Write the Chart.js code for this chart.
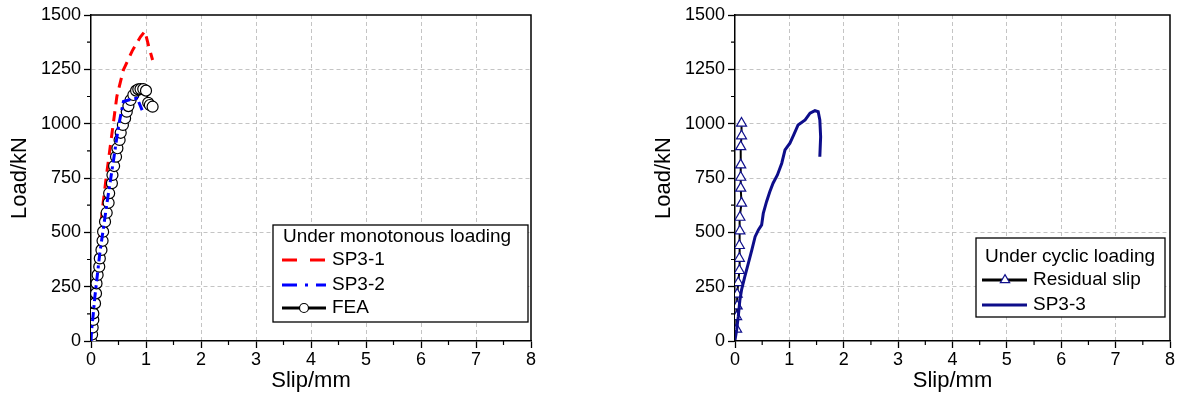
<!DOCTYPE html>
<html>
<head>
<meta charset="utf-8">
<title>Load-slip curves</title>
<script src="https://cdn.jsdelivr.net/npm/chart.js@4.4.1/dist/chart.umd.min.js"></script>
<style>
  html, body { margin: 0; padding: 0; background: #fff; }
  body { width: 1179px; height: 405px; position: relative; overflow: hidden; }
  .panel { position: absolute; top: 0; height: 405px; }
  #left { left: 0; width: 560px; }
  #right { left: 644px; width: 535px; }
</style>
</head>
<body>
<div class="panel" id="left"><canvas id="mono"></canvas></div>
<div class="panel" id="right"><canvas id="cyclic"></canvas></div>
<script>
// axis ticks shared by both panels
const slipTicks = [0, 1, 2, 3, 4, 5, 6, 7, 8];
const loadTicks = [0, 250, 500, 750, 1000, 1250, 1500];

// monotonous loading
const sp31Slip = [0, 0.05, 0.1, 0.15, 0.2, 0.27, 0.35, 0.47, 0.59, 0.75, 0.9, 0.98, 1.05, 1.12];
const sp31Load = [0, 130, 280, 430, 590, 740, 895, 1125, 1248, 1335, 1400, 1425, 1355, 1293];

const sp32Slip = [0, 0.01, 0.04, 0.07, 0.16, 0.29, 0.41, 0.5, 0.59, 0.7, 0.84, 0.93];
const sp32Load = [0, 48, 122, 203, 403, 634, 833, 988, 1102, 1110, 1117, 1062];

const feaSlip = [0, 0.02, 0.03, 0.042, 0.042, 0.073, 0.091, 0.1, 0.12, 0.15, 0.16, 0.19, 0.21, 0.22, 0.255,
  0.285, 0.32, 0.33, 0.38, 0.39, 0.42, 0.455, 0.48, 0.52, 0.54, 0.58, 0.62, 0.65, 0.68, 0.72, 0.77,
  0.82, 0.86, 0.9, 0.95, 1.0, 1.04, 1.07, 1.12];
const feaLoad = [0, 30, 62, 97, 127, 173, 219, 265, 304, 342, 380, 419, 461, 503, 549,
  590, 636, 680, 726, 764, 805, 848, 887, 925, 958, 994, 1025, 1055, 1081, 1109, 1132,
  1152, 1158, 1159, 1159, 1152, 1096, 1086, 1078];

// cyclic loading
const residualSlip = [0.03, 0.03, 0.04, 0.04, 0.06, 0.08, 0.08, 0.08, 0.09, 0.09, 0.12, 0.105, 0.105, 0.105, 0.105, 0.12, 0.12];
const residualLoad = [54, 112, 161, 215, 268, 324, 380, 439, 506, 569, 634, 703, 753, 810, 894, 943, 1002];

const sp33Slip = [0, 0.03, 0.06, 0.09, 0.12, 0.18, 0.245, 0.31, 0.37, 0.43, 0.49, 0.52, 0.58, 0.64, 0.7,
  0.78, 0.86, 0.92, 1.01, 1.08, 1.16, 1.29, 1.38, 1.47, 1.53, 1.56, 1.575, 1.56];
const sp33Load = [5, 51, 112, 189, 235, 296, 357, 419, 480, 511, 534, 587, 641, 687, 726,
  764, 818, 879, 910, 948, 994, 1017, 1048, 1060, 1055, 1017, 940, 848];

const FONT = "'Liberation Sans', Arial, sans-serif";
const toPoints = (xs, ys) => xs.map((x, i) => ({ x, y: ys[i] }));

const makeAxis = (ticks, horizontal) => {
  const last = ticks.length - 1;
  return {
    type: 'linear',
    min: ticks[0],
    max: ticks[last],
    afterBuildTicks: (s) => { s.ticks = ticks.map(v => ({ value: v })); },
    afterFit: (s) => { if (horizontal) s.height = 64; else s.width = 91; },
    ticks: {
      color: '#000',
      font: { family: FONT, size: 18 },
      padding: horizontal ? 1 : 3,
      autoSkip: false,
      maxRotation: 0,
      callback: (v) => String(v)
    },
    grid: {
      color: (c) => (c.index === 0 || c.index === last) ? 'rgba(0,0,0,0)' : '#c4c4c4',
      lineWidth: 1,
      tickColor: '#000',
      tickLength: 7,
      tickWidth: 1.3
    },
    border: { color: '#000', width: 1.5, dash: [4, 3] },
    title: {
      display: true,
      text: horizontal ? 'Slip/mm' : 'Load/kN',
      color: '#000',
      font: { family: FONT, size: 22 },
      padding: horizontal ? { top: 0, bottom: 11 } : { top: 7, bottom: 0 }
    }
  };
};

// top/right frame lines and the minor ticks between the major ones
const framePlugin = {
  id: 'frame',
  afterDatasetsDraw(chart) {
    const { ctx, chartArea: a, scales: { x, y } } = chart;
    ctx.save();
    ctx.strokeStyle = '#000';
    ctx.lineWidth = 1.5;
    ctx.beginPath();
    ctx.moveTo(a.left, a.top);
    ctx.lineTo(a.right, a.top);
    ctx.lineTo(a.right, a.bottom);
    ctx.stroke();
    ctx.lineWidth = 1.2;
    ctx.beginPath();
    for (let i = 0; i < slipTicks.length - 1; i++) {
      const px = x.getPixelForValue((slipTicks[i] + slipTicks[i + 1]) / 2);
      ctx.moveTo(px, a.bottom);
      ctx.lineTo(px, a.bottom + 4);
    }
    for (let i = 0; i < loadTicks.length - 1; i++) {
      const py = y.getPixelForValue((loadTicks[i] + loadTicks[i + 1]) / 2);
      ctx.moveTo(a.left, py);
      ctx.lineTo(a.left - 4, py);
    }
    ctx.stroke();
    ctx.restore();
  }
};

const drawMarker = (ctx, style, cx, cy, r) => {
  ctx.beginPath();
  if (style === 'triangle') {
    ctx.moveTo(cx, cy - r);
    ctx.lineTo(cx + r * 0.866, cy + r * 0.5);
    ctx.lineTo(cx - r * 0.866, cy + r * 0.5);
    ctx.closePath();
  } else {
    ctx.arc(cx, cy, r, 0, Math.PI * 2);
  }
  ctx.fill();
  ctx.stroke();
};

// boxed legend with a title line
const boxLegendPlugin = {
  id: 'boxLegend',
  afterDraw(chart, args, opts) {
    const { ctx } = chart;
    const [x1, y1, x2, y2] = opts.box;
    ctx.save();
    ctx.fillStyle = '#fff';
    ctx.fillRect(x1, y1, x2 - x1, y2 - y1);
    ctx.strokeStyle = '#000';
    ctx.lineWidth = 1.3;
    ctx.strokeRect(x1, y1, x2 - x1, y2 - y1);
    ctx.font = `19px ${FONT}`;
    ctx.fillStyle = '#000';
    ctx.textBaseline = 'middle';
    ctx.fillText(opts.title, opts.titleX, opts.titleY);
    opts.items.forEach((item) => {
      const ds = chart.data.datasets[item.dataset];
      ctx.save();
      ctx.strokeStyle = item.lineColor || ds.borderColor;
      ctx.lineWidth = 3;
      ctx.setLineDash(item.dash || []);
      ctx.beginPath();
      ctx.moveTo(opts.sampleFrom, item.y);
      ctx.lineTo(opts.sampleTo, item.y);
      ctx.stroke();
      ctx.setLineDash([]);
      if (ds.pointRadius > 0) {
        ctx.fillStyle = ds.pointBackgroundColor;
        ctx.strokeStyle = ds.pointBorderColor;
        ctx.lineWidth = ds.pointBorderWidth;
        drawMarker(ctx, ds.pointStyle, item.markerX, item.y, item.markerR);
      }
      ctx.restore();
      ctx.fillText(ds.label, opts.textX, item.y);
    });
    ctx.restore();
  }
};

const baseOptions = (padRight, legend) => ({
  responsive: true,
  maintainAspectRatio: false,
  animation: false,
  devicePixelRatio: 1,
  layout: { padding: { top: 15, right: padRight, left: 0, bottom: 0 } },
  scales: { x: makeAxis(slipTicks, true), y: makeAxis(loadTicks, false) },
  plugins: {
    legend: { display: false },
    tooltip: { enabled: false },
    boxLegend: legend
  }
});

new Chart(document.getElementById('mono'), {
  type: 'scatter',
  data: {
    datasets: [
      {
        label: 'SP3-1',
        data: toPoints(sp31Slip, sp31Load),
        showLine: true, tension: 0,
        borderColor: '#ff0000', borderWidth: 3, borderDash: [10, 7],
        pointRadius: 0, order: 2
      },
      {
        label: 'SP3-2',
        data: toPoints(sp32Slip, sp32Load),
        showLine: true, tension: 0,
        borderColor: '#0000ff', borderWidth: 3, borderDash: [9, 4, 3, 4],
        pointRadius: 0, order: 0
      },
      {
        label: 'FEA',
        data: toPoints(feaSlip, feaLoad),
        showLine: true, tension: 0,
        borderColor: '#000', borderWidth: 2,
        pointStyle: 'circle', pointRadius: 5.5,
        pointBackgroundColor: '#fff', pointBorderColor: '#000', pointBorderWidth: 1.2,
        order: 1
      }
    ]
  },
  options: baseOptions(29, {
    box: [273, 225, 528, 322],
    title: 'Under monotonous loading', titleX: 283, titleY: 237,
    sampleFrom: 282, sampleTo: 326, textX: 332,
    items: [
      { dataset: 0, y: 260, dash: [15, 13] },
      { dataset: 1, y: 285, dash: [15, 8, 3, 8] },
      { dataset: 2, y: 308, markerX: 304, markerR: 4.5, lineColor: '#000' }
    ]
  }),
  plugins: [framePlugin, boxLegendPlugin]
});

new Chart(document.getElementById('cyclic'), {
  type: 'scatter',
  data: {
    datasets: [
      {
        label: 'Residual slip',
        data: toPoints(residualSlip, residualLoad),
        showLine: true, tension: 0,
        borderColor: '#000', borderWidth: 2,
        pointStyle: 'triangle', pointRadius: 5.8,
        pointBackgroundColor: '#fff', pointBorderColor: '#10108c', pointBorderWidth: 1.2,
        order: 1
      },
      {
        label: 'SP3-3',
        data: toPoints(sp33Slip, sp33Load),
        showLine: true, tension: 0,
        borderColor: '#0d0d8a', borderWidth: 3,
        pointRadius: 0, order: 0
      }
    ]
  },
  options: baseOptions(9, {
    box: [332, 238, 521, 317],
    title: 'Under cyclic loading', titleX: 341, titleY: 257,
    sampleFrom: 338, sampleTo: 383, textX: 389,
    items: [
      { dataset: 0, y: 280, markerX: 361, markerR: 5.4, lineColor: '#000' },
      { dataset: 1, y: 305 }
    ]
  }),
  plugins: [framePlugin, boxLegendPlugin]
});
</script>
</body>
</html>
